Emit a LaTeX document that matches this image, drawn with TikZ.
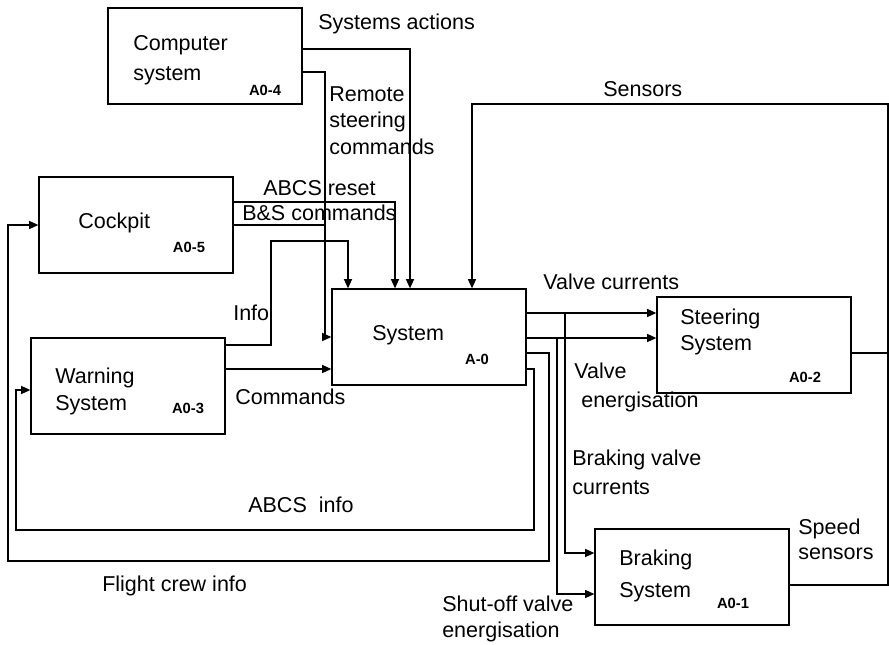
\documentclass[tikz,border=0pt]{standalone}
\usepackage{fontspec}
\setmainfont{Liberation Sans}
\usetikzlibrary{arrows.meta,positioning}

\begin{document}
\begin{tikzpicture}[
  x=0.025cm, y=-0.025cm,
  font=\fontsize{15.3}{18.5}\selectfont,
  blk/.style={draw, line width=0.9pt, minimum width=4.85cm, minimum height=2.4cm, inner sep=0pt},
  ttl/.style={align=left, anchor=west, inner sep=0pt},
  code/.style={font=\fontsize{10.5}{12}\selectfont\bfseries, inner sep=0pt},
  lbl/.style={align=left, anchor=west, inner sep=0pt},
  lsk/.style={font=\fontsize{15.3}{#1}\selectfont},
  fl/.style={-{Triangle[length=2.3mm,width=2mm]}, line width=0.9pt},
  ln/.style={line width=0.9pt},
]
\useasboundingbox (0,0) rectangle (889,645);
% activity boxes
\node[blk] (comp)  at (205,56)  {};
\node[blk] (cock)  at (136,225) {};
\node[blk] (warn)  at (128,386) {};
\node[blk] (sys)   at (429,337) {};
\node[blk] (steer) at (754,345) {};
\node[blk] (brake) at (692,577) {};
\node[ttl, lsk=21.3pt] (compt)  at (133,60)    {Computer\\system};
\node[ttl]             (cockt)  at (78,223)    {Cockpit};
\node[ttl, lsk=19.2pt] (warnt)  at (55,391.5)  {Warning\\System};
\node[ttl]             (syst)   at (372,335)   {System};
\node[ttl, lsk=18.5pt] (steert) at (680,332)   {Steering\\System};
\node[ttl, lsk=22.8pt] (braket) at (619,576)   {Braking\\System};
\node[code] (compc)  at (265,90)  {A0-4};
\node[code] (cockc)  at (189,247) {A0-5};
\node[code] (warnc)  at (188,408) {A0-3};
\node[code] (sysc)   at (477,359) {A-0};
\node[code] (steerc) at (805,377) {A0-2};
\node[code] (brakec) at (733,603) {A0-1};
% inputs to the system
\draw[fl] (comp.east |- 0,49) -| (sys.north -| 410,0);
\draw[fl] (comp.east |- 0,72) -| (325,337) -- (sys.west |- 0,337);
\draw[fl] (cock.east |- 0,202) -| (sys.north -| 395,0);
\draw[ln] (cock.east) -- (325,225);
\draw[fl] (warn.east |- 0,345) -| (271,241) -| (sys.north -| 348,0);
\draw[fl] (warn.east |- 0,369) -- (sys.west |- 0,369);
% outputs of the system
\coordinate (vc) at (565,313);
\coordinate (ve) at (557,338);
\draw[fl] (sys.east |- 0,313) -- (steer.west |- 0,313);
\draw[fl] (sys.east |- 0,338) -- (steer.west |- 0,338);
\draw[fl] (vc) |- (brake.west |- 0,553);
\draw[fl] (ve) |- (brake.west |- 0,594);
\draw[fl] (sys.east |- 0,353) -| (549,561) -- (8,561) |- (cock.west);
\draw[fl] (sys.east |- 0,369) -| (534,530) -- (16,530) |- (warn.west |- 0,390);
% sensor feedback
\draw[ln] (steer.east |- 0,353) -- (888,353);
\draw[fl] (brake.east |- 0,585) -- (888,585) |- (472,104) -- (sys.north -| 472,0);
% flow labels
\node[lbl] (sa)  at (318,24)  {Systems actions};
\node[lbl, lsk=18.8pt] (rsc) at (329,120.5) {Remote\\steering\\commands};
\node[lbl] (ar)  at (263,188) {ABCS reset};
\node[lbl] (bs)  at (242,213) {B\&S commands};
\node[lbl] (inf) at (233,313) {Info};
\node[lbl] (cmd) at (235,397) {Commands};
\node[lbl] (sen) at (603,89)  {Sensors};
\node[lbl] (vcl) at (543,282) {Valve currents};
\node[lbl, lsk=20.6pt] (vel) at (574,387.5) {Valve\\\hspace*{1.75mm}energisation};
\node[lbl, lsk=20.6pt] (bvl) at (572,472.5) {Braking valve\\currents};
\node[lbl, lsk=17.8pt] (ssl) at (798,539.5) {Speed\\sensors};
\node[lbl, lsk=18.5pt] (sol) at (442,619)   {Shut-off valve\\energisation};
\node[lbl] (abi) at (248,505) {ABCS\ \ info};
\node[lbl] (fci) at (102,586) {Flight crew info};
\end{tikzpicture}
\end{document}
